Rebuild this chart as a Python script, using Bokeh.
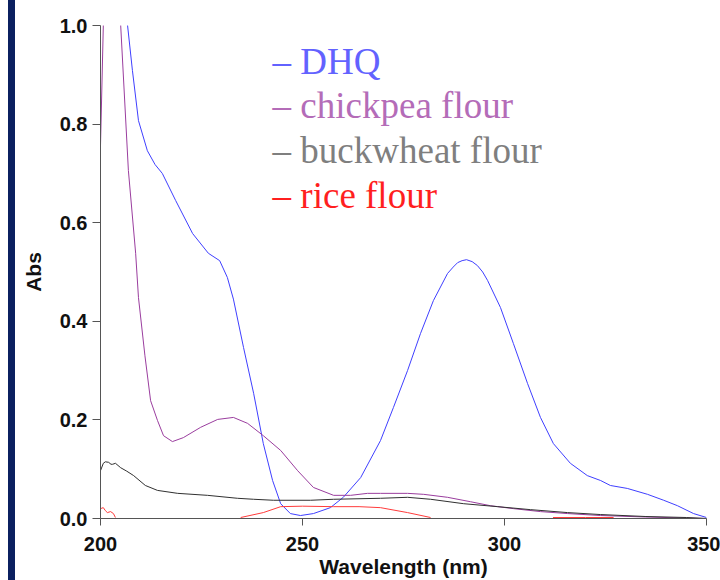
import math
from bokeh.plotting import figure
from bokeh.models import Range1d, Label, PrintfTickFormatter, Div
from bokeh.layouts import row
from bokeh.embed import file_html
from bokeh.resources import INLINE

nan = math.nan

# DHQ
wl_dhq = [205.5, 206.7, 207.9, 209.4, 211.6, 213.5, 215.3, 218.6, 222.8, 226.7, 229.5, 231.4,
          232.9, 235.4, 237.9, 240.3, 242.6, 244.6, 247.0, 249.5, 252.7, 256.9, 260.1,
          264.4, 269.3, 272.5, 276.0, 279.2, 282.4, 285.9, 287.3, 288.4, 289.5, 290.6, 292.0,
          293.3, 294.6, 295.8, 299.0, 302.2, 305.7, 308.9, 312.1, 316.3, 320.5, 323.8,
          326.2, 330.4, 335.4, 339.4, 342.8, 346.8, 350.0]
abs_dhq = [1.10, 1.00, 0.909, 0.807, 0.746, 0.718, 0.700, 0.645, 0.578, 0.538, 0.523, 0.489,
           0.445, 0.347, 0.254, 0.152, 0.077, 0.030, 0.010, 0.006, 0.010, 0.022, 0.043,
           0.083, 0.158, 0.225, 0.300, 0.375, 0.442, 0.497, 0.510, 0.519, 0.523, 0.525, 0.521,
           0.513, 0.500, 0.483, 0.428, 0.355, 0.274, 0.205, 0.152, 0.112, 0.087, 0.077,
           0.067, 0.061, 0.049, 0.037, 0.026, 0.010, 0.002]

# chickpea flour
wl_cp = [200.0, 200.7, 201.2, 204.5, 205.0, 206.9, 208.7, 209.4, 211.0, 212.4, 214.1, 215.6,
         217.8, 220.5, 224.8, 229.0, 232.9, 236.4, 240.3, 244.6, 248.8, 252.7, 257.7,
         261.9, 266.1, 269.3, 276.0, 280.0, 285.9, 291.6, 296.5, 302.2, 308.9, 315.6,
         323.8, 335.0, 350.0]
abs_cp = [0.757, 1.00, 1.10, 1.10, 1.00, 0.706, 0.538, 0.448, 0.330, 0.239, 0.199, 0.168,
          0.156, 0.164, 0.185, 0.201, 0.205, 0.193, 0.168, 0.138, 0.097, 0.063, 0.047,
          0.047, 0.051, 0.051, 0.051, 0.049, 0.043, 0.034, 0.026, 0.020, 0.014, 0.010,
          0.006, 0.003, 0.000]

# buckwheat flour
wl_bw = [200.0, 200.7, 201.2, 202.0, 202.6, 203.0, 203.7, 205.0, 206.5, 208.2, 211.1, 214.1,
         219.1, 226.5, 233.9, 237.9, 242.8, 252.0, 257.7, 269.3, 276.0, 281.7, 289.9,
         298.3, 306.4, 315.6, 323.8, 335.0, 345.0, 350.0]
abs_bw = [0.097, 0.112, 0.115, 0.114, 0.110, 0.110, 0.112, 0.103, 0.096, 0.087, 0.067, 0.057,
          0.051, 0.047, 0.041, 0.039, 0.037, 0.037, 0.039, 0.041, 0.043, 0.039, 0.030,
          0.024, 0.018, 0.012, 0.008, 0.004, 0.002, 0.000]

# rice flour (gaps where it dips below zero)
wl_rice = [200.0, 200.7, 201.2, 201.7, 202.5, 203.2, 203.7, nan, 234.7, 240.3, 244.6, 250.0,
           257.7, 264.0, 269.3, 276.0, 281.7, nan, 312.0, 320.0, 327.0]
abs_rice = [0.020, 0.022, 0.016, 0.012, 0.014, 0.010, 0.002, nan, 0.002, 0.012, 0.024, 0.025,
            0.024, 0.024, 0.022, 0.012, 0.002, nan, 0.002, 0.002, 0.002]

x_ticks = [200, 250, 300, 350]
y_ticks = [0.0, 0.2, 0.4, 0.6, 0.8, 1.0]

legend_names = ["\u2013 DHQ", "\u2013 chickpea flour", "\u2013 buckwheat flour", "\u2013 rice flour"]
legend_colors = ["#6262ff", "#b46cb8", "#7f7f7f", "#ff1f1f"]
line_colors = ["#3f3fff", "#9a3d9e", "#303030", "#ff3b3b"]

p = figure(width=705, height=580, output_backend="svg", toolbar_location=None,
           x_range=Range1d(200, 350), y_range=Range1d(0, 1),
           min_border_left=85, min_border_right=14, min_border_top=25, min_border_bottom=62)
p.outline_line_color = None
p.xgrid.visible = False
p.ygrid.visible = False

for ax in (p.xaxis[0], p.yaxis[0]):
    ax.axis_line_color = "#555555"
    ax.major_tick_line_color = "#555555"
    ax.major_tick_in = 0
    ax.minor_tick_in = 0
    ax.minor_tick_out = 0
    ax.major_label_text_font = "Liberation Sans"
    ax.major_label_text_font_style = "bold"
    ax.major_label_text_font_size = "20px"
    ax.major_label_text_color = "#111111"
    ax.axis_label_text_font = "Liberation Sans"
    ax.axis_label_text_font_style = "bold"
    ax.axis_label_text_font_size = "21px"
    ax.axis_label_text_color = "#111111"

p.xaxis.major_tick_out = 7
p.yaxis.major_tick_out = 8
p.xaxis.ticker = x_ticks
p.yaxis.ticker = y_ticks
p.yaxis.formatter = PrintfTickFormatter(format="%.1f")
p.xaxis.axis_label = "Wavelength (nm)"
p.yaxis.axis_label = "Abs"
p.xaxis.major_label_standoff = 11
p.xaxis.axis_label_standoff = 1
p.yaxis.major_label_standoff = 5
p.yaxis.axis_label_standoff = 12

p.line(wl_dhq, abs_dhq, line_color=line_colors[0], line_width=1)
p.line(wl_cp, abs_cp, line_color=line_colors[1], line_width=1)
p.line(wl_bw, abs_bw, line_color=line_colors[2], line_width=1)
p.line(wl_rice, abs_rice, line_color=line_colors[3], line_width=1)

legend_y = [0.927, 0.837, 0.747, 0.656]
for name, col, ly in zip(legend_names, legend_colors, legend_y):
    p.add_layout(Label(x=242.6, y=ly, text=name, text_color=col,
                       text_font="Liberation Serif", text_font_size="37px",
                       text_baseline="alphabetic", text_align="left"))

gap = Div(width=8, height=580, margin=0)
bar = Div(width=7, height=580, margin=0, styles={"background-color": "#0b2060"})
layout = row(gap, bar, p, spacing=0)

open("out.html", "w").write(file_html(layout, INLINE))
